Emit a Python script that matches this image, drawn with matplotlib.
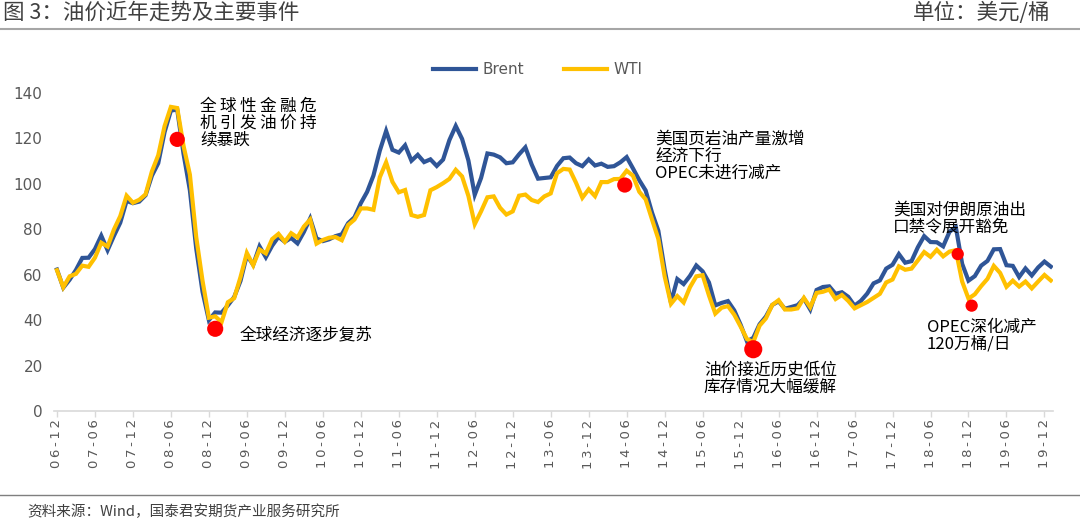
import matplotlib.pyplot as plt
import numpy as np
from matplotlib.lines import Line2D

plt.rcParams['font.family'] = ['Noto Sans CJK SC', 'DejaVu Sans']

# 月度均价, 2006-12 ~ 2020-01
brent = [
    62.3,
    54.3, 57.8, 62.1, 67.4, 67.5, 71.3, 77.2, 70.8, 77.1, 82.9, 92.5, 91.5,
    92.2, 95.0, 103.6, 109.1, 122.8, 132.3, 132.7, 113.2, 97.2, 71.6, 52.5, 40.0,
    43.4, 43.3, 46.5, 50.2, 57.3, 68.6, 64.4, 72.5, 67.7, 72.8, 76.7, 74.5,
    76.2, 73.8, 78.8, 84.8, 76.0, 74.8, 75.6, 77.0, 77.8, 82.7, 85.3, 91.5,
    96.5, 103.7, 114.6, 123.3, 115.0, 113.8, 117.0, 110.2, 112.8, 109.6, 110.8, 107.9,
    110.7, 119.3, 125.5, 119.8, 110.3, 95.2, 102.6, 113.4, 112.9, 111.7, 109.1, 109.5,
    113.0, 116.1, 108.5, 102.3, 102.6, 102.9, 107.9, 111.3, 111.6, 109.1, 107.8, 110.8,
    108.1, 108.9, 107.5, 107.8, 109.5, 111.8, 106.8, 101.6, 97.1, 87.4, 79.4, 62.3,
    47.8, 58.1, 55.9, 59.5, 64.1, 61.5, 56.6, 46.5, 47.6, 48.4, 44.3, 38.0,
    30.7, 32.2, 38.2, 41.6, 46.7, 48.3, 45.0, 45.8, 46.6, 49.5, 44.7, 53.3,
    54.6, 54.9, 51.6, 52.3, 50.3, 46.4, 48.5, 51.7, 56.2, 57.5, 62.7, 64.4,
    69.1, 65.3, 66.0, 72.1, 77.0, 74.4, 74.3, 72.5, 78.9, 81.0, 64.8, 57.4,
    59.4, 64.0, 66.1, 71.2, 71.3, 64.2, 63.9, 59.0, 62.8, 59.7, 63.2, 65.8,
    63.6,
]
wti = [
    62.0,
    54.5, 59.3, 60.4, 64.0, 63.5, 67.5, 74.1, 72.4, 79.9, 85.8, 94.8, 91.7,
    93.0, 95.4, 105.5, 112.6, 125.4, 133.9, 133.4, 116.7, 104.1, 76.6, 57.3, 41.1,
    41.7, 39.1, 47.9, 49.7, 59.0, 69.6, 64.2, 71.1, 69.4, 75.7, 78.0, 74.5,
    78.3, 76.4, 81.2, 84.3, 73.7, 75.3, 76.3, 76.6, 75.2, 81.9, 84.3, 89.2,
    89.2, 88.6, 102.9, 109.5, 100.9, 96.3, 97.3, 86.3, 85.5, 86.3, 97.2, 98.6,
    100.3, 102.2, 106.2, 103.3, 94.7, 82.3, 87.9, 94.1, 94.5, 89.5, 86.5, 87.9,
    94.8, 95.3, 92.9, 92.0, 94.5, 95.8, 104.7, 106.6, 106.3, 100.5, 93.9, 97.6,
    94.6, 100.8, 100.8, 102.1, 102.2, 105.8, 103.6, 96.5, 93.2, 84.4, 75.8, 59.3,
    47.2, 50.6, 47.8, 54.5, 59.3, 59.8, 50.9, 42.9, 45.5, 46.2, 42.4, 37.2,
    31.7, 30.3, 37.6, 40.8, 46.7, 48.8, 44.7, 44.7, 45.2, 49.8, 45.7, 52.0,
    52.5, 53.5, 49.3, 51.1, 48.5, 45.2, 46.6, 48.0, 49.8, 51.6, 56.6, 57.9,
    63.7, 62.2, 62.7, 66.3, 70.0, 67.9, 71.0, 68.1, 70.2, 70.8, 57.0, 49.5,
    51.4, 55.0, 58.2, 63.9, 60.8, 54.7, 57.4, 54.8, 57.0, 54.0, 57.0, 59.9,
    57.5,
]
tick_labels = ['06-12', '07-06', '07-12', '08-06', '08-12', '09-06', '09-12',
               '10-06', '10-12', '11-06', '11-12', '12-06', '12-12', '13-06',
               '13-12', '14-06', '14-12', '15-06', '15-12', '16-06', '16-12',
               '17-06', '17-12', '18-06', '18-12', '19-06', '19-12']

# 事件红点 (月序号, 价格, 大小)
event_x = [19, 25, 89.7, 110, 142.3, 144.5]
event_y = [119.6, 36.2, 99.5, 27.2, 69.1, 46.4]
event_s = [120, 135, 120, 170, 78, 78]

# 事件文字 (左边x, 首行y, 各行)
notes = [
    (22.6, 134.0, ['全\u2009球\u2009性\u2009金\u2009融\u2009危',
                   '机\u2009引\u2009发\u2009油\u2009价\u2009持', '续暴跌']),
    (28.8, 33.5, ['全球经济逐步复苏']),
    (94.5, 119.6, ['美国页岩油产量激增', '经济下行', 'OPEC未进行减产']),
    (102.2, 18.0, ['油价接近历史低位', '库存情况大幅缓解']),
    (132.1, 88.5, ['美国对伊朗原油出', '口禁令展开豁免']),
    (137.4, 36.8, ['OPEC深化减产', '120万桶/日']),
]

x = np.arange(len(brent))

fig = plt.figure(figsize=(10.8, 5.23), dpi=100)
ax = fig.add_axes([0.0498, 0.2141, 0.9249, 0.608])

ax.plot(x, brent, color='#2F5597', lw=3, label='Brent', solid_joinstyle='miter')
ax.plot(x, wti, color='#FFC000', lw=3, label='WTI', solid_joinstyle='miter')
ax.scatter(event_x, event_y, s=event_s, color='#FF0000', zorder=5, linewidths=0)

for nx, ny, lines in notes:
    for k, line in enumerate(lines):
        ax.text(nx, ny - k * 7.35, line, fontsize=12, color='#000000',
                va='center', ha='left')

ax.set_xlim(-0.5, 157.3)
ax.set_ylim(0, 140)
ax.set_yticks(np.arange(0, 141, 20))
ax.set_xticks(np.arange(0, 157, 6))
ax.set_xticklabels(['\u2009'.join(t) for t in tick_labels], rotation=90,
                   family='DejaVu Sans', fontsize=9.5, color='#595959')
for t in ax.get_yticklabels():
    t.set_family('DejaVu Sans')
    t.set_fontsize(11)
    t.set_color('#595959')
ax.tick_params(axis='y', length=0, pad=8)
ax.tick_params(axis='x', length=4, width=1, color='#D9D9D9', pad=2)
for s in ['top', 'right', 'left']:
    ax.spines[s].set_visible(False)
ax.spines['bottom'].set_color('#D9D9D9')
ax.spines['bottom'].set_linewidth(1.2)

leg = ax.legend(loc='center', bbox_to_anchor=(538 / 1080, 1 - 70 / 523),
                bbox_transform=fig.transFigure, ncol=2, frameon=False,
                handlelength=2.8, handletextpad=0.45, columnspacing=2.6,
                prop={'family': 'DejaVu Sans', 'size': 11})
for t in leg.get_texts():
    t.set_color('#595959')

# 标题和来源
fig.text(3 / 1080, 1 - 13 / 523, '图 3：油价近年走势及主要事件', fontsize=15.5,
         color='#404040', va='center', ha='left')
fig.text(1050 / 1080, 1 - 13 / 523, '单位：美元/桶', fontsize=15.5,
         color='#404040', va='center', ha='right')
fig.add_artist(Line2D([0, 1], [1 - 29.5 / 523] * 2, color='#A6A6A6', lw=1.5))
fig.add_artist(Line2D([0, 1], [1 - 495 / 523] * 2, color='#7F7F7F', lw=1))
fig.text(27 / 1080, 1 - 512 / 523, '资料来源：Wind，国泰君安期货产业服务研究所',
         fontsize=10.5, color='#404040', va='center', ha='left')

fig.savefig('out.png', dpi=100)
